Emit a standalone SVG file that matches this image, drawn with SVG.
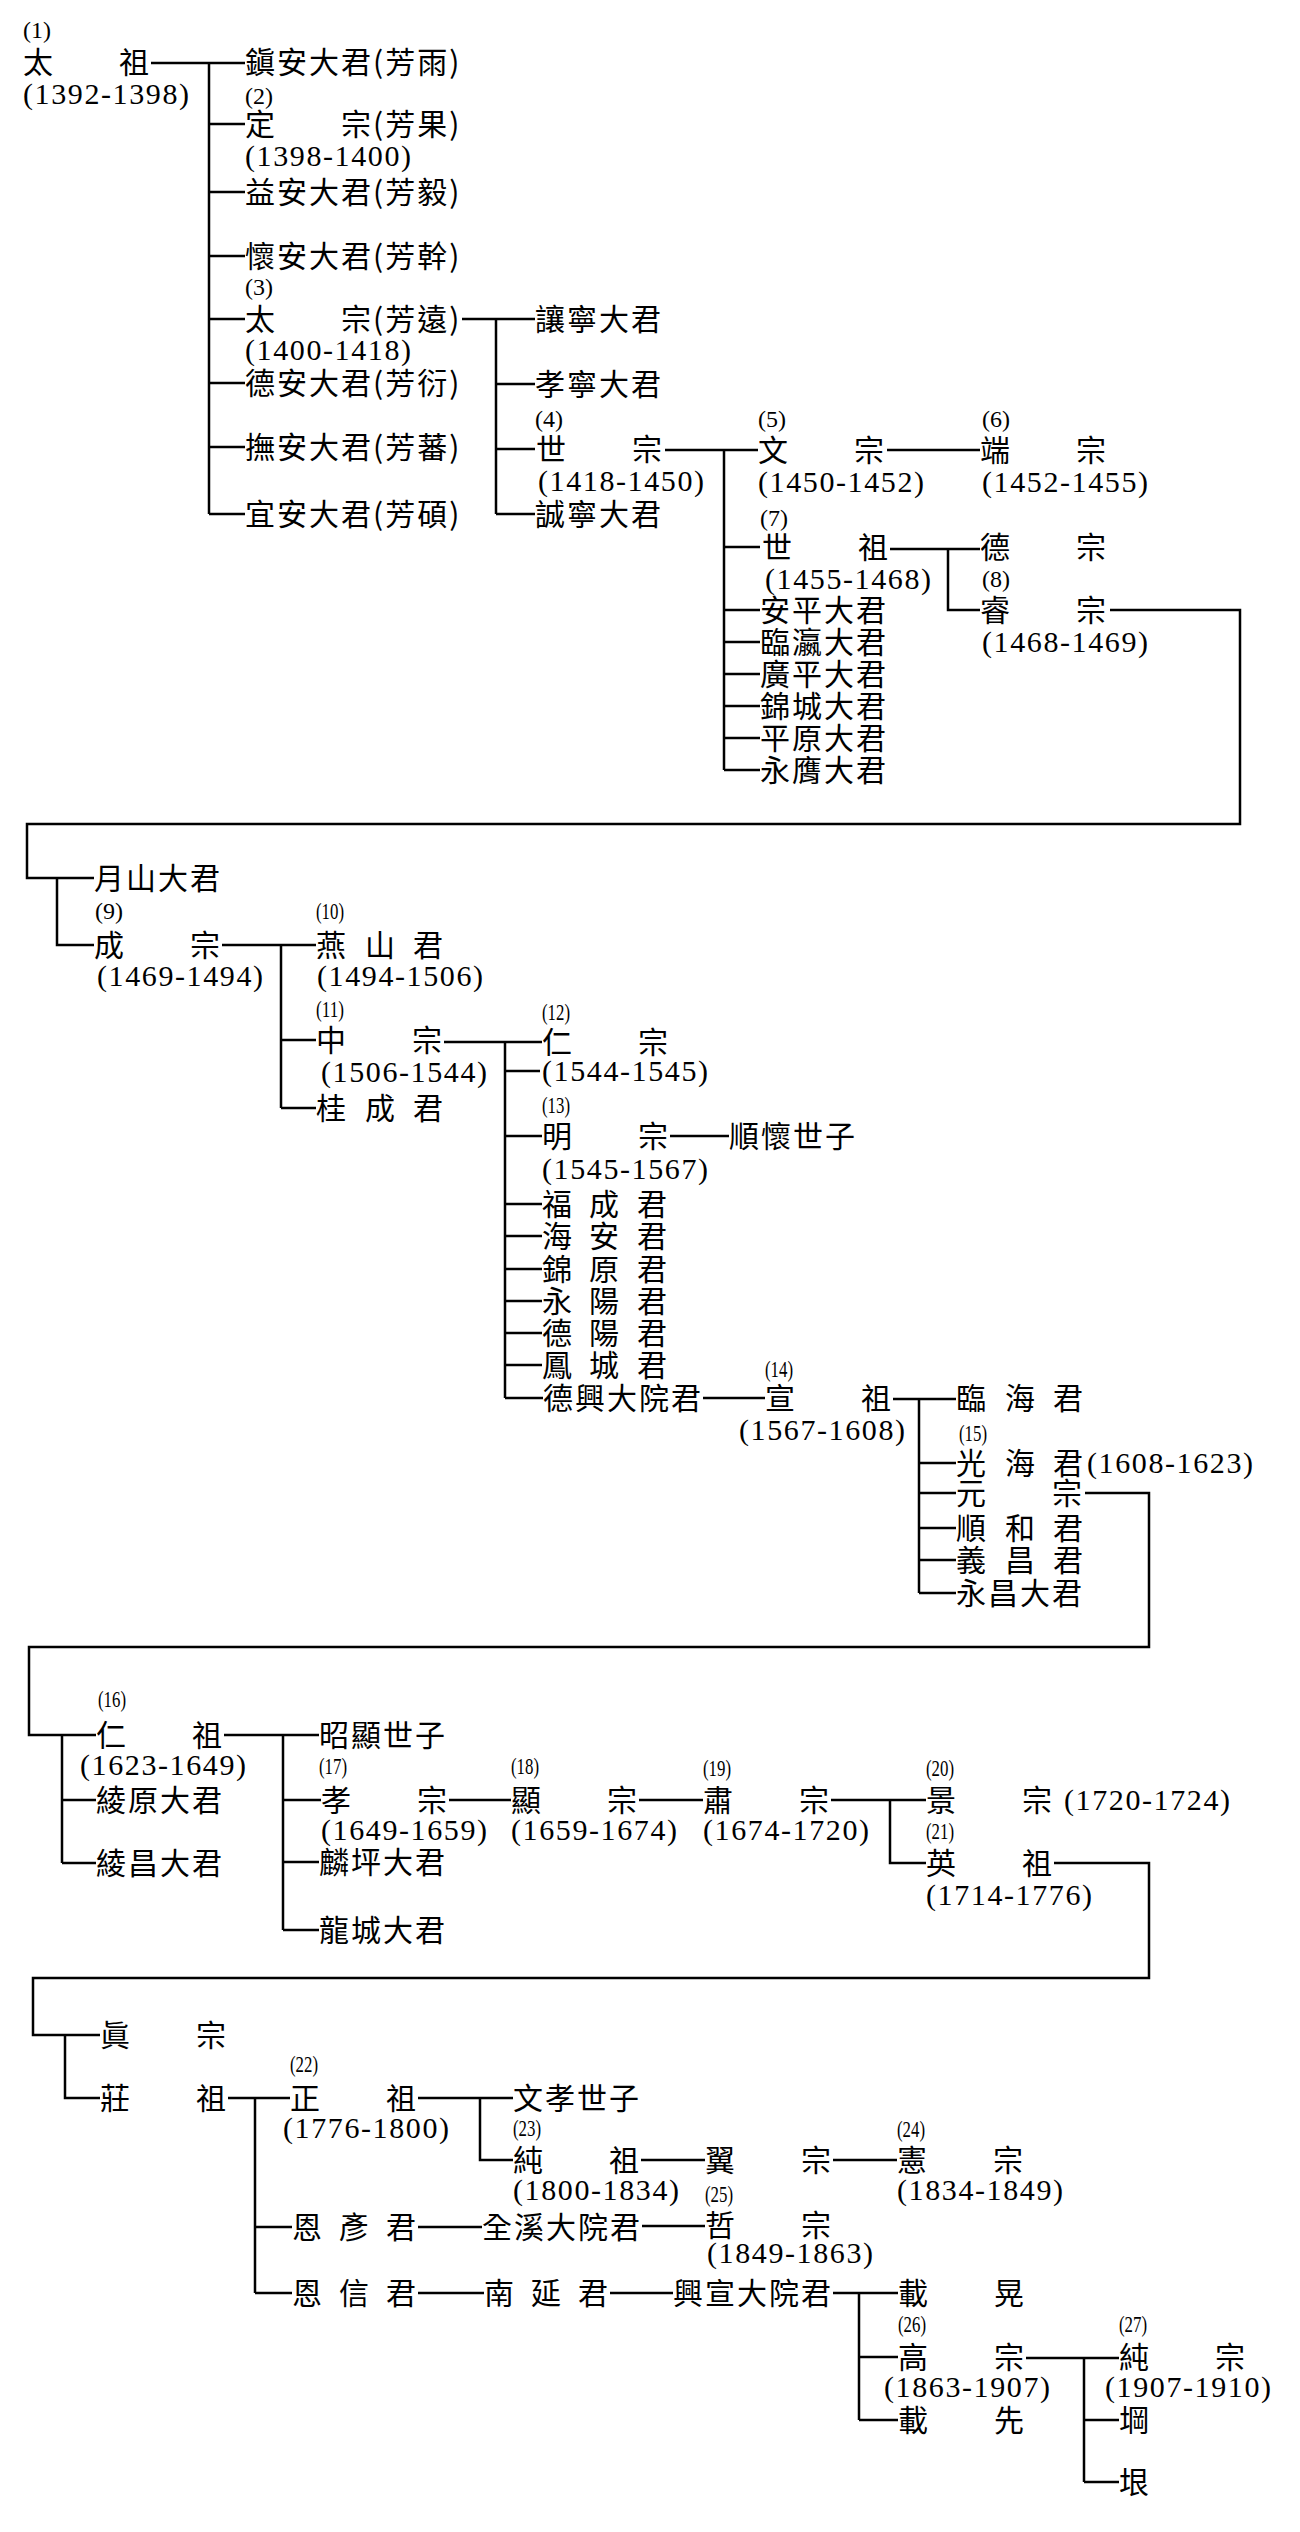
<svg xmlns="http://www.w3.org/2000/svg" width="1300" height="2532" viewBox="0 0 1300 2532">
<style>
.c{font-family:"Noto Sans CJK TC","Noto Sans CJK JP",sans-serif;font-size:30px;letter-spacing:2px;fill:#000}
.y{font-family:"Liberation Serif",serif;font-size:30px;letter-spacing:1.6px;fill:#000}
.n{font-family:"Liberation Serif",serif;font-size:24px;fill:#000}
#connectors path{stroke:#000;stroke-width:2.5;fill:none}
</style>
<rect width="1300" height="2532" fill="#fff"/>
<g id="connectors">
<path d="M151 63H245M209 63V514M209 124H245M209 192H245M209 256H245M209 319H245M209 383H245M209 447H245M209 514H245"/>
<path d="M462 319H535M496 319V514M496 384H535M496 449H535M496 514H535"/>
<path d="M665 450H758M724 450V770M724 547H760M724 610H760M724 642H760M724 674H760M724 706H760M724 738H760M724 770H760"/>
<path d="M887 450H980M890 549H980M948 549V610H980"/>
<path d="M1110 610H1240V824H27V878H94M57 878V945H94"/>
<path d="M222 945H316M281 945V1108M281 1040H316M281 1108H316"/>
<path d="M444 1042H542M505 1042V1398M505 1071H540M505 1136H542M505 1204H542M505 1236H542M505 1269H542M505 1301H542M505 1333H542M505 1365H542M505 1398H543M670 1136H729"/>
<path d="M703 1398H765M893 1399H956M919 1399V1593M919 1463H956M919 1493H956M919 1528H956M919 1560H956M919 1593H956"/>
<path d="M1085 1493H1149V1647H29V1735H96M62 1735V1863M62 1800H96M62 1863H96"/>
<path d="M224 1735H319M283 1735V1930M283 1800H321M283 1862H319M283 1930H319M449 1800H511M639 1800H703M831 1800H926M890 1800V1863H926"/>
<path d="M1054 1863H1149V1978H33V2035H100M65 2035V2098H100"/>
<path d="M228 2098H290M255 2098V2293M255 2227H292M255 2293H292M418 2098H513M480 2098V2160H513M641 2160H705M833 2160H897M418 2227H482M642 2226H705"/>
<path d="M418 2293H484M610 2293H673M833 2293H898M859 2293V2420M859 2357H898M859 2420H898M1026 2358H1119M1084 2358V2482M1084 2420H1119M1084 2482H1119"/>
</g>
<g id="taejo"><text class="n" x="23" y="38">(1)</text><text class="c" x="23" y="73">太　　祖</text><text class="y" x="23" y="104">(1392-1398)</text></g>
<g id="jinan"><text class="c" x="245" y="73">鎭安大君(芳雨)</text></g>
<g id="jeongjong"><text class="n" x="245" y="104">(2)</text><text class="c" x="245" y="135">定　　宗(芳果)</text><text class="y" x="245" y="166">(1398-1400)</text></g>
<g id="ikan"><text class="c" x="245" y="203">益安大君(芳毅)</text></g>
<g id="hoean"><text class="c" x="245" y="267">懷安大君(芳幹)</text></g>
<g id="taejong"><text class="n" x="245" y="295">(3)</text><text class="c" x="245" y="330">太　　宗(芳遠)</text><text class="y" x="245" y="360">(1400-1418)</text></g>
<g id="deokan"><text class="c" x="245" y="394">德安大君(芳衍)</text></g>
<g id="muan"><text class="c" x="245" y="458">撫安大君(芳蕃)</text></g>
<g id="uian"><text class="c" x="245" y="525">宜安大君(芳碩)</text></g>
<g id="yangnyeong"><text class="c" x="535" y="330">讓寧大君</text></g>
<g id="hyoryeong"><text class="c" x="535" y="395">孝寧大君</text></g>
<g id="sejong"><text class="n" x="535" y="427">(4)</text><text class="c" x="536" y="460">世　　宗</text><text class="y" x="538" y="491">(1418-1450)</text></g>
<g id="seongnyeong"><text class="c" x="535" y="525">誠寧大君</text></g>
<g id="munjong"><text class="n" x="758" y="427">(5)</text><text class="c" x="758" y="461">文　　宗</text><text class="y" x="758" y="492">(1450-1452)</text></g>
<g id="danjong"><text class="n" x="982" y="427">(6)</text><text class="c" x="980" y="461">端　　宗</text><text class="y" x="982" y="492">(1452-1455)</text></g>
<g id="sejo"><text class="n" x="760" y="526">(7)</text><text class="c" x="762" y="558">世　　祖</text><text class="y" x="765" y="589">(1455-1468)</text></g>
<g id="anpyeong"><text class="c" x="760" y="621">安平大君</text></g>
<g id="imyeong"><text class="c" x="760" y="653">臨瀛大君</text></g>
<g id="gwangpyeong"><text class="c" x="760" y="685">廣平大君</text></g>
<g id="geumseong"><text class="c" x="760" y="717">錦城大君</text></g>
<g id="pyeongwon"><text class="c" x="760" y="749">平原大君</text></g>
<g id="yeongeung"><text class="c" x="760" y="781">永膺大君</text></g>
<g id="deokjong"><text class="c" x="980" y="558">德　　宗</text></g>
<g id="yejong"><text class="n" x="982" y="587">(8)</text><text class="c" x="980" y="621">睿　　宗</text><text class="y" x="982" y="652">(1468-1469)</text></g>
<g id="wolsan"><text class="c" x="94" y="889">月山大君</text></g>
<g id="seongjong"><text class="n" x="95" y="919">(9)</text><text class="c" x="94" y="956">成　　宗</text><text class="y" x="97" y="986">(1469-1494)</text></g>
<g id="yeonsan"><text class="n" x="316" y="919" textLength="28" lengthAdjust="spacingAndGlyphs">(10)</text><text class="c" x="316 348 365 397 413" y="956">燕 山 君</text><text class="y" x="317" y="986">(1494-1506)</text></g>
<g id="jungjong"><text class="n" x="316" y="1017" textLength="28" lengthAdjust="spacingAndGlyphs">(11)</text><text class="c" x="316" y="1051">中　　宗</text><text class="y" x="321" y="1082">(1506-1544)</text></g>
<g id="gyeseong"><text class="c" x="316 348 365 397 413" y="1119">桂 成 君</text></g>
<g id="injong"><text class="n" x="542" y="1020" textLength="28" lengthAdjust="spacingAndGlyphs">(12)</text><text class="c" x="542" y="1053">仁　　宗</text><text class="y" x="542" y="1081">(1544-1545)</text></g>
<g id="myeongjong"><text class="n" x="542" y="1113" textLength="28" lengthAdjust="spacingAndGlyphs">(13)</text><text class="c" x="542" y="1147">明　　宗</text><text class="y" x="542" y="1179">(1545-1567)</text></g>
<g id="sunhoe"><text class="c" x="729" y="1147">順懷世子</text></g>
<g id="bokseong"><text class="c" x="542 574 589 621 637" y="1215">福 成 君</text></g>
<g id="haean"><text class="c" x="542 574 589 621 637" y="1247">海 安 君</text></g>
<g id="geumwon"><text class="c" x="542 574 589 621 637" y="1280">錦 原 君</text></g>
<g id="yeongyang"><text class="c" x="542 574 589 621 637" y="1312">永 陽 君</text></g>
<g id="deokyang"><text class="c" x="542 574 589 621 637" y="1344">德 陽 君</text></g>
<g id="bongseong"><text class="c" x="542 574 589 621 637" y="1376">鳳 城 君</text></g>
<g id="deokheung"><text class="c" x="543" y="1409">德興大院君</text></g>
<g id="seonjo"><text class="n" x="765" y="1377" textLength="28" lengthAdjust="spacingAndGlyphs">(14)</text><text class="c" x="765" y="1409">宣　　祖</text><text class="y" x="739" y="1440">(1567-1608)</text></g>
<g id="imhae"><text class="c" x="956 988 1005 1037 1053" y="1409">臨 海 君</text></g>
<g id="gwanghae"><text class="n" x="959" y="1441" textLength="28" lengthAdjust="spacingAndGlyphs">(15)</text><text class="c" x="956 988 1005 1037 1053" y="1474">光 海 君</text><text class="y" x="1087" y="1473">(1608-1623)</text></g>
<g id="wonjong"><text class="c" x="956" y="1504">元　　宗</text></g>
<g id="sunhwa"><text class="c" x="956 988 1005 1037 1053" y="1539">順 和 君</text></g>
<g id="uichang"><text class="c" x="956 988 1005 1037 1053" y="1571">義 昌 君</text></g>
<g id="yeongchang"><text class="c" x="956" y="1604">永昌大君</text></g>
<g id="injo"><text class="n" x="98" y="1707" textLength="28" lengthAdjust="spacingAndGlyphs">(16)</text><text class="c" x="96" y="1746">仁　　祖</text><text class="y" x="80" y="1775">(1623-1649)</text></g>
<g id="neungwon"><text class="c" x="96" y="1811">綾原大君</text></g>
<g id="neungchang"><text class="c" x="96" y="1874">綾昌大君</text></g>
<g id="sohyeon"><text class="c" x="319" y="1746">昭顯世子</text></g>
<g id="hyojong"><text class="n" x="319" y="1774" textLength="28" lengthAdjust="spacingAndGlyphs">(17)</text><text class="c" x="321" y="1811">孝　　宗</text><text class="y" x="321" y="1840">(1649-1659)</text></g>
<g id="inpyeong"><text class="c" x="319" y="1873">麟坪大君</text></g>
<g id="yongseong"><text class="c" x="319" y="1941">龍城大君</text></g>
<g id="hyeonjong"><text class="n" x="511" y="1774" textLength="28" lengthAdjust="spacingAndGlyphs">(18)</text><text class="c" x="511" y="1811">顯　　宗</text><text class="y" x="511" y="1840">(1659-1674)</text></g>
<g id="sukjong"><text class="n" x="703" y="1776" textLength="28" lengthAdjust="spacingAndGlyphs">(19)</text><text class="c" x="703" y="1811">肅　　宗</text><text class="y" x="703" y="1840">(1674-1720)</text></g>
<g id="gyeongjong"><text class="n" x="926" y="1776" textLength="28" lengthAdjust="spacingAndGlyphs">(20)</text><text class="c" x="926" y="1811">景　　宗</text><text class="y" x="1064" y="1810">(1720-1724)</text></g>
<g id="yeongjo"><text class="n" x="926" y="1839" textLength="28" lengthAdjust="spacingAndGlyphs">(21)</text><text class="c" x="926" y="1874">英　　祖</text><text class="y" x="926" y="1905">(1714-1776)</text></g>
<g id="jinjong"><text class="c" x="100" y="2046">眞　　宗</text></g>
<g id="jangjo"><text class="c" x="100" y="2109">莊　　祖</text></g>
<g id="jeongjo"><text class="n" x="290" y="2072" textLength="28" lengthAdjust="spacingAndGlyphs">(22)</text><text class="c" x="290" y="2109">正　　祖</text><text class="y" x="283" y="2138">(1776-1800)</text></g>
<g id="munhyo"><text class="c" x="513" y="2109">文孝世子</text></g>
<g id="sunjo"><text class="n" x="513" y="2136" textLength="28" lengthAdjust="spacingAndGlyphs">(23)</text><text class="c" x="513" y="2171">純　　祖</text><text class="y" x="513" y="2200">(1800-1834)</text></g>
<g id="ikjong"><text class="c" x="705" y="2171">翼　　宗</text></g>
<g id="heonjong"><text class="n" x="897" y="2137" textLength="28" lengthAdjust="spacingAndGlyphs">(24)</text><text class="c" x="897" y="2171">憲　　宗</text><text class="y" x="897" y="2200">(1834-1849)</text></g>
<g id="euneon"><text class="c" x="292 324 339 371 386" y="2238">恩 彥 君</text></g>
<g id="jeongye"><text class="c" x="482" y="2238">全溪大院君</text></g>
<g id="cheoljong"><text class="n" x="705" y="2202" textLength="28" lengthAdjust="spacingAndGlyphs">(25)</text><text class="c" x="705" y="2236">哲　　宗</text><text class="y" x="707" y="2263">(1849-1863)</text></g>
<g id="eunsin"><text class="c" x="292 324 339 371 386" y="2304">恩 信 君</text></g>
<g id="namyeon"><text class="c" x="484 516 531 563 578" y="2304">南 延 君</text></g>
<g id="heungseon"><text class="c" x="673" y="2304">興宣大院君</text></g>
<g id="jaehwang"><text class="c" x="898" y="2304">載　　晃</text></g>
<g id="gojong"><text class="n" x="898" y="2332" textLength="28" lengthAdjust="spacingAndGlyphs">(26)</text><text class="c" x="898" y="2368">高　　宗</text><text class="y" x="884" y="2397">(1863-1907)</text></g>
<g id="jaeseon"><text class="c" x="898" y="2431">載　　先</text></g>
<g id="sunjong"><text class="n" x="1119" y="2332" textLength="28" lengthAdjust="spacingAndGlyphs">(27)</text><text class="c" x="1119" y="2368">純　　宗</text><text class="y" x="1105" y="2397">(1907-1910)</text></g>
<g id="gang"><text class="c" x="1119" y="2431">堈</text></g>
<g id="eun"><text class="c" x="1119" y="2493">垠</text></g>
</svg>
